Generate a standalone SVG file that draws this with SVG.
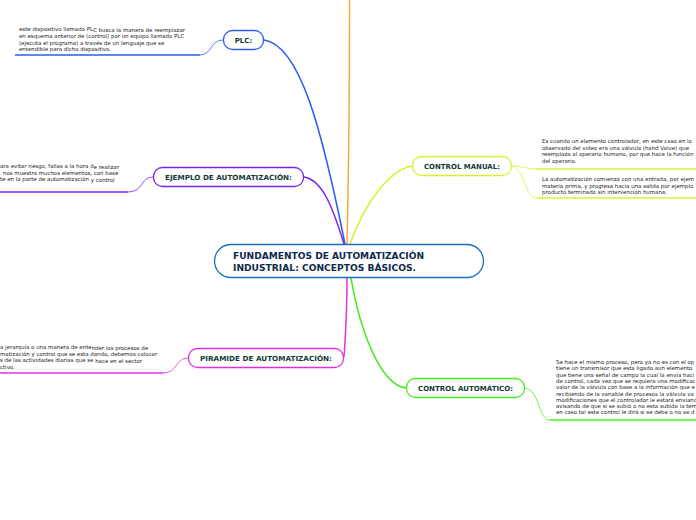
<svg xmlns="http://www.w3.org/2000/svg" width="696" height="520" viewBox="0 0 696 520">
<style>
.note{font-family:"DejaVu Sans","Liberation Sans",sans-serif;font-size:5.45px;fill:#222}
.lbl{font-family:"DejaVu Sans","Liberation Sans",sans-serif;font-size:7px;font-weight:bold;fill:#123a38;text-anchor:middle}
.main{font-family:"DejaVu Sans","Liberation Sans",sans-serif;font-size:9px;font-weight:bold;fill:#0d2a4d}
.node{fill:#fff;stroke-width:1.3}
.conn{fill:none;stroke-width:1.5}
.thin{fill:none;stroke-width:0.8}
.ul{fill:none;stroke-width:1.6}
</style>
<rect width="696" height="520" fill="#fff"/>
<g id="connectors">
<path class="conn" stroke="#f8a838" d="M349.5,0 C349.5,100 348,200 347,244"/>
<path class="conn" stroke="#2a5cf0" d="M264,40 C300,45 322,130 345,244"/>
<path class="conn" stroke="#7a22f0" d="M304,177 C322,180 332,205 344,244"/>
<path class="conn" stroke="#d8f230" d="M412,166 C390,170 366,200 350,244"/>
<path class="conn" stroke="#e030e0" d="M344,357 C346,330 347,300 347,278"/>
<path class="conn" stroke="#44ee22" d="M406,388 C380,385 360,330 351,278"/>
<path class="thin" stroke="#2a5cf0" d="M200,55 C212,55 210,40 223,40"/>
<path class="ul" stroke="#2a5cf0" d="M15,55 L200,55"/>
<path class="thin" stroke="#7a22f0" d="M128,192 C144,192 140,177 153,177"/>
<path class="ul" stroke="#7a22f0" d="M0,192 L128,192"/>
<path class="thin" stroke="#e030e0" d="M163,373 C178,373 175,358 188,358"/>
<path class="ul" stroke="#e030e0" d="M0,373 L163,373"/>
<path class="thin" stroke="#d8f230" d="M512,166 C522,166 527,169 537,169"/>
<path class="ul" stroke="#d8f230" d="M537,169 L696,169"/>
<path class="thin" stroke="#d8f230" d="M512,166 C526,170 524,198 537,198"/>
<path class="ul" stroke="#d8f230" d="M537,198 L696,198"/>
<path class="thin" stroke="#44ee22" d="M525,388 C540,390 538,420 550,420"/>
<path class="ul" stroke="#44ee22" d="M550,420 L696,420"/>
</g>
<g id="central">
<rect class="node" x="214.5" y="244.5" width="269" height="33" rx="16.5" stroke="#1a70c0"/>
<text class="main" x="233" y="259" textLength="191" lengthAdjust="spacingAndGlyphs">FUNDAMENTOS DE AUTOMATIZACIÓN</text>
<text class="main" x="233" y="270.5" textLength="183" lengthAdjust="spacingAndGlyphs">INDUSTRIAL: CONCEPTOS BÁSICOS.</text>
</g>
<g id="plc">
<rect class="node" x="223.5" y="30.5" width="40" height="19" rx="9" stroke="#2a5cf0"/>
<text class="lbl" x="243.5" y="42.5">PLC:</text>
</g>
<g id="plc-note">
<text class="note" x="19" y="31">este dispositivo llamado PL<tspan dy="0.8">C busca la manera de reemplazar</tspan></text>
<text class="note" x="19" y="38">en esquema anterior de (control) por un equipo llamado PLC</text>
<text class="note" x="19" y="44.5">(ejecuta el programa) a tra<tspan dy="0.8">vés de un lenguaje que se</tspan></text>
<text class="note" x="19" y="51">entendible para dicho dispositivo.</text>
</g>
<g id="ejemplo">
<rect class="node" x="153.5" y="167.5" width="150" height="19" rx="9" stroke="#7a22f0"/>
<text class="lbl" x="228.5" y="179.5" textLength="127" lengthAdjust="spacingAndGlyphs">EJEMPLO DE AUTOMATIZACIÓN:</text>
</g>
<g id="ejemplo-note">
<text class="note" x="0" y="168">ara evitar riesgo, fallas a la hora d<tspan dy="0.8">e realizar</tspan></text>
<text class="note" x="3" y="175">nos muestra muchos elementos, con base</text>
<text class="note" x="0" y="181">te en la parte de automatización <tspan dy="1">y control</tspan></text>
</g>
<g id="piramide">
<rect class="node" x="188.5" y="348.5" width="155" height="19" rx="9" stroke="#e030e0"/>
<text class="lbl" x="266" y="360.5" textLength="132" lengthAdjust="spacingAndGlyphs">PIRAMIDE DE AUTOMATIZACIÓN:</text>
</g>
<g id="piramide-note">
<text class="note" x="0" y="349">a jerarquía o una manera de ente<tspan dy="0.8">nder los procesos de</tspan></text>
<text class="note" x="0" y="356">matización y control que se esta dando, debemos colocar</text>
<text class="note" x="0" y="362">s de las actividades diarias que se <tspan dy="1">hace en el sector</tspan></text>
<text class="note" x="0" y="369">ctivo.</text>
</g>
<g id="control-manual">
<rect class="node" x="412.5" y="156.5" width="99" height="19" rx="9" stroke="#d8f230"/>
<text class="lbl" x="462" y="168.5" textLength="76" lengthAdjust="spacingAndGlyphs">CONTROL MANUAL:</text>
</g>
<g id="manual-note-1">
<text class="note" x="542" y="143">Es cuando un elemento controlador, en este caso en lo</text>
<text class="note" x="542" y="149.5">observado del video era una válvula (hand Valve) que</text>
<text class="note" x="542" y="156">reemplaza al operario humano, por que hace la función</text>
<text class="note" x="542" y="162.5">del operario.</text>
</g>
<g id="manual-note-2">
<text class="note" x="542" y="181">La automatización comienza con una entrada, por ejem</text>
<text class="note" x="542" y="187.5">materia prima, y progresa hacia una salida por ejemplo</text>
<text class="note" x="542" y="194">producto terminado sin intervención humana.</text>
</g>
<g id="control-automatico">
<rect class="node" x="406.5" y="378.5" width="118" height="19" rx="9" stroke="#44ee22"/>
<text class="lbl" x="465.5" y="390.5" textLength="95" lengthAdjust="spacingAndGlyphs">CONTROL AUTOMÁTICO:</text>
</g>
<g id="automatico-note">
<text class="note" x="556" y="364">Se hace el mismo proceso, pero ya no es con el op</text>
<text class="note" x="556" y="370.3">tiene un transmisor que esta ligado aun elemento</text>
<text class="note" x="556" y="376.6">que tiene una señal de campo la cual la envía haci</text>
<text class="note" x="556" y="382.9">de control, cada vez que se requiera una modificac</text>
<text class="note" x="556" y="389.2">valor de la válvula con base a la información que e</text>
<text class="note" x="556" y="395.5">recibiendo de la variable de procesos la válvula va</text>
<text class="note" x="556" y="401.8">modificaciones que el controlador le estará enviand</text>
<text class="note" x="556" y="408.1">avisando de que si se subió o no esta subida la tem</text>
<text class="note" x="556" y="414.4">en caso tal este control le dirá si se debe o no se d</text>
</g>
</svg>
